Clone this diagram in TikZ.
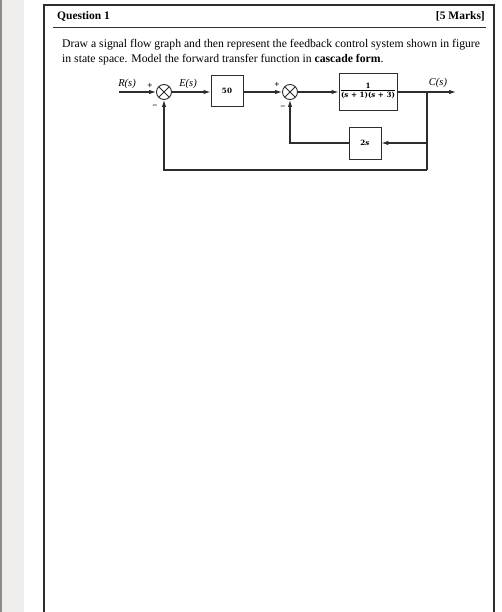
\documentclass[tikz,border=0pt]{standalone}
\usepackage{fontspec}
\setmainfont{Liberation Serif}
\newfontfamily\blkfont{DejaVu Serif}
\usetikzlibrary{arrows.meta}
\definecolor{strip}{RGB}{240,238,236}
\definecolor{ink}{RGB}{45,45,45}
\begin{document}
\begin{tikzpicture}[x=1pt,y=-1pt,
  sig/.style={draw=ink,line width=1.1pt,-{Latex[length=7pt,width=4.5pt]}},
  ln/.style={draw=ink,line width=1.1pt},
  blk/.style={draw=ink,line width=0.9pt,inner sep=0pt,font=\blkfont\fontsize{7.2}{8.5}\selectfont\bfseries},
  sumj/.style={draw=ink,line width=0.9pt,circle,minimum size=15pt,inner sep=0pt,
    path picture={\draw[ink,line width=0.9pt] (path picture bounding box.north west)--(path picture bounding box.south east)
      (path picture bounding box.north east)--(path picture bounding box.south west);}},
  lab/.style={font=\fontsize{10.5}{12}\selectfont\itshape},
  sgn/.style={font=\fontsize{9}{10}\selectfont\bfseries,inner sep=0pt},
  txt/.style={anchor=base west,inner sep=0pt,font=\fontsize{11.7}{13}\selectfont}]
\useasboundingbox (0,0) rectangle (502,612);
% page background strip and frame
\fill[strip] (0,0) rectangle (24,612);
\draw[line width=1.5pt,black!45] (0.75,0) -- (0.75,612);
\draw[line width=2pt,ink] (44,612) -- (44,5) -- (494,5) -- (494,612);
% header
\node[anchor=base west,inner sep=0pt,font=\fontsize{11.5}{13}\selectfont\bfseries] (q) at (57,19.5) {Question 1};
\node[anchor=base east,inner sep=0pt,font=\fontsize{11.5}{13}\selectfont\bfseries] (m) at (485,19.5) {[5 Marks]};
\draw[line width=0.8pt,ink] (53,27) -- (486,27);
% paragraph
\node[txt] (p1) at (62,48) {Draw a signal flow graph and then represent the feedback control system shown in figure};
\node[txt] (p2) at (62,62.5) {in state space. Model the forward transfer function in \textbf{cascade form}.};
% diagram
\coordinate (in) at (119,92);
\node[sumj] (j1) at (164,92) {};
\node[blk,minimum width=32pt,minimum height=31pt] (b50) at (227,91) {50};
\node[sumj] (j2) at (290,92) {};
\node[blk,minimum width=58pt,minimum height=37pt] (btf) at (368,91.5)
  {\begin{tabular}{@{}c@{}}1\\[-1.5pt]\hline\rule{0pt}{8pt}(\textit{s} + 1)(\textit{s} + 3)\end{tabular}};
\coordinate (tk) at (427,92);
\coordinate (out) at (456,92);
\node[blk,minimum width=32pt,minimum height=32pt] (b2s) at (365,143) {2\textit{s}};
\coordinate (fb1) at (427,143);
\coordinate (fb2) at (427,170);
\draw[sig] (in) -- (j1.west);
\draw[sig] (j1.east) -- (j1.east -| b50.west);
\draw[sig] (b50.east |- j2) -- (j2.west);
\draw[sig] (j2.east) -- (j2.east -| btf.west);
\draw[sig] (btf.east |- tk) -- (out);
\draw[sig] (tk) -- (fb1) -- (b2s.east);
\draw[sig] (b2s.west) -| (j2.south);
\draw[ln] (fb1) -- (fb2);
\draw[sig] (fb2) -| (j1.south);
% labels
\node[lab] (R) at (127,84) {R(s)};
\node[lab] (E) at (188,84) {E(s)};
\node[lab] (C) at (438,83) {C(s)};
\node[sgn] (p1s) at (150,86) {+};
\node[sgn] (m1s) at (155,107) {−};
\node[sgn] (p2s) at (277,85) {+};
\node[sgn] (m2s) at (283,108) {−};
\end{tikzpicture}
\end{document}
